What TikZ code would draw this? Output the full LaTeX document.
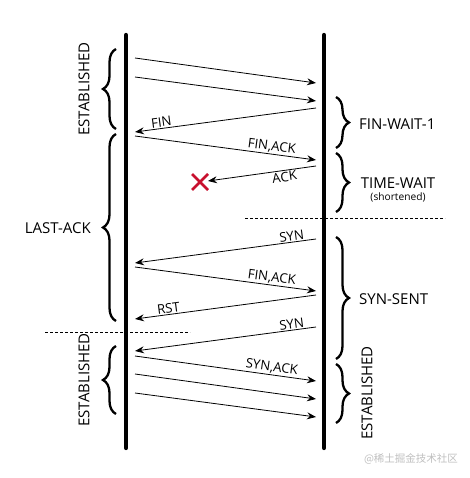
\documentclass[tikz,border=0pt]{standalone}
\usepackage{fontspec}
\setmainfont{Open Sans}
\newfontfamily\cjk{Noto Sans CJK SC}
\usetikzlibrary{arrows.meta,decorations.pathreplacing,calc}
\definecolor{xred}{RGB}{200,16,46}
\begin{document}
\begin{tikzpicture}[x=1pt,y=-1pt,
  life/.style={line width=4.3pt, line cap=round},
  msg/.style={line width=0.8pt, -{Stealth[length=9pt,width=7pt,inset=3pt]}},
  lbl/.style={font=\fontsize{13.2}{15}\selectfont, sloped, inner sep=1.2pt},
  state/.style={font=\fontsize{15}{17}\selectfont, inner sep=0pt},
  small/.style={font=\fontsize{10.2}{12}\selectfont, inner sep=0pt},
  brc/.style={decorate, decoration={brace, amplitude=13pt}, line width=2.3pt},
  sep/.style={line width=0.7pt, dash pattern=on 3pt off 2pt},
  cross/.style={xred, line width=2.6pt}]
\useasboundingbox (0,0) rectangle (469,478);
% lifelines
\coordinate (LT) at (126,35); \coordinate (LB) at (126,448);
\coordinate (RT) at (324,35); \coordinate (RB) at (324,448);
\draw[life] (LT) -- (LB);
\draw[life] (RT) -- (RB);
% message endpoints
\coordinate (a1s) at (135,58);  \coordinate (a1e) at (316,83);
\coordinate (a2s) at (135,77);  \coordinate (a2e) at (316,101);
\coordinate (a3s) at (316,108); \coordinate (a3e) at (135,132);
\coordinate (a4s) at (135,136); \coordinate (a4e) at (316,160);
\coordinate (a5s) at (316,166); \coordinate (a5e) at (208,181);
\coordinate (a6s) at (316,239); \coordinate (a6e) at (135,263);
\coordinate (a7s) at (135,267); \coordinate (a7e) at (316,291);
\coordinate (a8s) at (316,295); \coordinate (a8e) at (135,319);
\coordinate (a9s) at (316,327); \coordinate (a9e) at (135,351);
\coordinate (a10s) at (135,356); \coordinate (a10e) at (316,381);
\coordinate (a11s) at (135,374); \coordinate (a11e) at (316,399);
\coordinate (a12s) at (135,393); \coordinate (a12e) at (316,417);
% messages
\draw[msg] (a1s) -- (a1e);
\draw[msg] (a2s) -- (a2e);
\draw[msg] (a3s) -- node[lbl, above, pos=0.85] (l3) {FIN} (a3e);
\draw[msg] (a4s) -- node[lbl, above, pos=0.75] (l4) {FIN,ACK} (a4e);
\draw[msg] (a5s) -- node[lbl, below, pos=0.3] (l5) {ACK} (a5e);
\draw[msg] (a6s) -- node[lbl, above, pos=0.13] (l6) {SYN} (a6e);
\draw[msg] (a7s) -- node[lbl, above, pos=0.75] (l7) {FIN,ACK} (a7e);
\draw[msg] (a8s) -- node[lbl, above, pos=0.81] (l8) {RST} (a8e);
\draw[msg] (a9s) -- node[lbl, above, pos=0.13] (l9) {SYN} (a9e);
\draw[msg] (a10s) -- node[lbl, above, pos=0.75] (l10) {SYN,ACK} (a10e);
\draw[msg] (a11s) -- (a11e);
\draw[msg] (a12s) -- (a12e);
% lost packet
\coordinate (X) at (200,182);
\draw[cross] ($(X)+(-8,-8)$) -- ($(X)+(8,8)$);
\draw[cross] ($(X)+(-8,8)$) -- ($(X)+(8,-8)$);
% separators
\coordinate (s1a) at (245,218); \coordinate (s1b) at (445,218);
\coordinate (s2a) at (45,332);  \coordinate (s2b) at (190,332);
\draw[sep] (s1a) -- (s1b);
\draw[sep] (s2a) -- (s2b);
% left braces
\draw[brc] (116,129) -- (116,49);
\draw[brc] (116,321) -- (116,134);
\draw[brc] (116,414) -- (116,346);
% right braces
\draw[brc] (336,97) -- (336,148);
\draw[brc] (336,153) -- (336,212);
\draw[brc] (336,237) -- (336,359);
\draw[brc] (336,364) -- (336,423);
% state labels
\node[state, rotate=90] (st1) at (84,89) {ESTABLISHED};
\node[state, anchor=east] (st2) at (91,228) {LAST-ACK};
\node[state, rotate=90] (st3) at (84,380) {ESTABLISHED};
\node[state, anchor=west] (st4) at (359,124) {FIN-WAIT-1};
\node[state] (st5) at (398,183) {TIME-WAIT};
\node[small] (st5b) at (398,197) {(shortened)};
\node[state, anchor=west] (st6) at (359,299) {SYN-SENT};
\node[state, rotate=90] (st7) at (367,393) {ESTABLISHED};
% watermark
\node[font=\cjk\fontsize{10.5}{12}\selectfont, text=black!25, inner sep=0pt] (wm) at (411,459) {@稀土掘金技术社区};
\end{tikzpicture}
\end{document}
